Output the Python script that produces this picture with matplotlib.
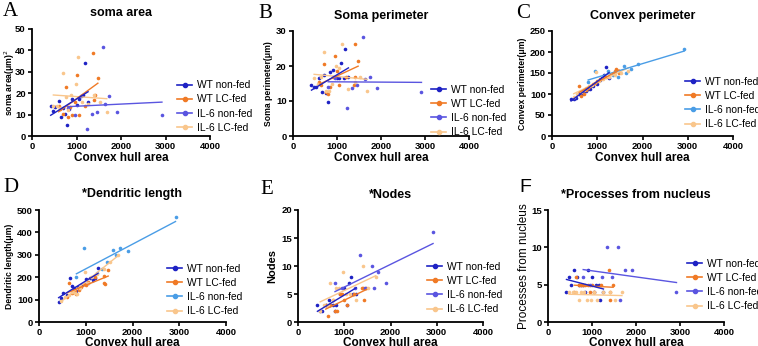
import numpy as np
import matplotlib
matplotlib.use("Agg")
import matplotlib.pyplot as plt
from matplotlib.lines import Line2D

plt.rcParams['font.family'] = ['Liberation Sans', 'DejaVu Sans']

W, H = 758, 346
series_names = ["WT non-fed", "WT LC-fed", "IL-6 non-fed", "IL-6 LC-fed"]

# Convex hull area per group (shared across panels)
x_wt_nf = [420, 480, 520, 600, 660, 700, 750, 790, 830, 910, 1000, 1050, 1100, 1150, 1190, 1260]
x_wt_lc = [600, 640, 700, 760, 800, 850, 900, 960, 1000, 1050, 1200, 1380, 1400, 1420, 1480]
x_il_nf = [800, 960, 1230, 1350, 1450, 1590, 1640, 1740, 1910, 2920]
x_il_lc = [480, 560, 640, 700, 760, 820, 880, 980, 1040, 1120, 1250, 1400, 1520, 1680]

# A: soma area
A_wt_nf = [14, 11.5, 13.5, 16.5, 9, 13, 10.5, 5, 12.5, 17.5, 14.5, 17.5, 18.5, 19, 34, 16]
A_wt_lc = [14, 12.5, 10.5, 23, 9, 13.5, 10, 16, 28.5, 10, 14, 39, 17, 19, 27]
A_il_nf = [13, 10, 3.5, 10.5, 11, 41.5, 15, 18.8, 11.4, 10]
A_il_lc = [14, 14, 13, 29.5, 18, 12, 19, 24.5, 37, 16, 15, 19, 16, 11]
# B: soma perimeter
B_wt_nf = [14.6, 14.1, 14.1, 16.5, 12.5, 17.4, 12.2, 9.8, 18.2, 18.9, 16.5, 16.5, 20.9, 16.5, 24.8, 16.8]
B_wt_lc = [15.5, 14.5, 20.5, 12.5, 12, 14, 17, 23, 18.5, 14.5, 17, 14.5, 26.2, 17, 21.3]
B_il_nf = [14, 16.5, 7.9, 13.6, 14.6, 28.4, 16.2, 16.8, 13.6, 12.7]
B_il_lc = [16.5, 15, 17, 24, 13, 13, 15, 20, 19.5, 26.3, 13.5, 15.5, 17, 13]
# C: convex perimeter
C_wt_nf = [88, 88, 91, 101, 101, 107, 107, 113, 113, 119, 123, 133, 139, 146, 165, 139]
C_wt_lc = [120, 95, 100, 110, 115, 120, 125, 127, 130, 135, 140, 148, 155, 160, 150]
C_il_nf = [129, 155, 155, 145, 140, 167, 150, 160, 172, 207]
C_il_lc = [92, 100, 105, 110, 115, 120, 122, 153, 130, 135, 140, 145, 150, 155]
# D: dendritic length
D_wt_nf = [90, 106, 128, 121, 195, 162, 150, 140, 155, 166, 190, 176, 195, 188, 198, 240]
D_wt_lc = [110, 175, 130, 140, 125, 145, 155, 170, 165, 180, 200, 175, 205, 170, 230]
D_il_nf = [200, 329, 217, 235, 269, 321, 300, 332, 318, 467]
D_il_lc = [95, 110, 120, 135, 130, 125, 150, 225, 175, 200, 215, 235, 270, 300]
# E: nodes
E_wt_nf = [3, 2, 2, 3, 4, 3, 3, 2, 3, 5, 6, 3, 7, 8, 5, 5]
E_wt_lc = [3, 1, 3, 4, 2, 2, 5, 5, 4, 3, 5, 6, 6, 4, 6]
E_il_nf = [7, 6, 6, 12, 6, 10, 6, 9, 7, 16]
E_il_lc = [2, 3, 3, 7, 4, 6, 6, 9, 5, 5, 4, 10, 6, 8]
# F: processes from nucleus
F_wt_nf = [4, 6, 5, 7, 6, 5, 5, 5, 4, 7, 6, 4, 5, 5, 3, 4]
F_wt_lc = [4, 6, 5, 5, 5, 5, 5, 4, 5, 4, 5, 7, 3, 4, 5]
F_il_nf = [6, 5, 6, 10, 6, 10, 3, 7, 7, 4]
F_il_lc = [4, 4, 4, 3, 4, 4, 3, 3, 4, 3, 4, 4, 3, 4]

titles = ["soma area", "Soma perimeter", "Convex perimeter", "*Dendritic length", "*Nodes", "*Processes from nucleus"]
ylabels = ["soma area(\u03bcm)$^2$", "Soma perimeter(\u03bcm)", "Convex perimeter(\u03bcm)", "Dendritic length(\u03bcm)", "Nodes", "Processes from nucleus"]
letters = ["A", "B", "C", "D", "E", "F"]
ymaxes = [50, 30, 250, 500, 20, 15]
ysteps = [10, 10, 50, 100, 5, 5]

C_WT = '#1e22c4'
C_WTLC = '#f07a26'
C_ILV = '#5a55e0'
C_ILB = '#4a9de6'
C_ILLC = '#f9c68c'

# pixel boxes: left, right, top, bottom
boxes = [(32, 210, 29, 136), (293, 469, 31, 136), (552, 733, 31, 136),
         (39, 226, 210, 322), (298, 483, 210, 322), (548, 724, 210, 322)]
legend_pos = [(177, 106.5), (431, 111), (685, 103), (167, 290), (427, 288), (687, 285)]
letter_pos = [(3, 12), (258, 14), (516, 14), (3, 188), (260, 190), (519, 188)]
ylabel_x = [9.5, 268.5, 522.5, 9.5, 272, 524]

xs = [x_wt_nf, x_wt_lc, x_il_nf, x_il_lc]
data = [[A_wt_nf, A_wt_lc, A_il_nf, A_il_lc], [B_wt_nf, B_wt_lc, B_il_nf, B_il_lc],
        [C_wt_nf, C_wt_lc, C_il_nf, C_il_lc], [D_wt_nf, D_wt_lc, D_il_nf, D_il_lc],
        [E_wt_nf, E_wt_lc, E_il_nf, E_il_lc], [F_wt_nf, F_wt_lc, F_il_nf, F_il_lc]]

fig = plt.figure(figsize=(W / 100, H / 100), dpi=100)
for i in range(6):
    l, r, t, b = boxes[i]
    ax = fig.add_axes([l / W, 1 - b / H, (r - l) / W, (b - t) / H])
    il_col = C_ILB if i in (2, 3) else C_ILV
    cols = [C_WT, C_WTLC, il_col, C_ILLC]
    order = [3, 2, 1, 0]
    for g in order:
        x = np.array(xs[g], float)
        y = np.array(data[i][g], float)
        ax.plot(x, y, 'o', ms=2.6, color=cols[g], mec='none', zorder=2 + g * 0.1, clip_on=False)
        k, c0 = np.polyfit(x, y, 1)
        xx = np.array([x.min(), x.max()])
        ax.plot(xx, k * xx + c0, '-', lw=1.0, color=cols[g], zorder=3)
    ax.set_xlim(0, 4000)
    ax.set_ylim(0, ymaxes[i])
    ax.set_xticks(range(0, 4001, 1000))
    ax.set_yticks(np.arange(0, ymaxes[i] + 0.1, ysteps[i]))
    for s in ['top', 'right']:
        ax.spines[s].set_visible(False)
    for s in ['left', 'bottom']:
        ax.spines[s].set_linewidth(1.3)
    ax.tick_params(direction='out', length=3, width=1.2, labelsize=6.8, pad=1.5)
    for lab in ax.get_xticklabels() + ax.get_yticklabels():
        lab.set_fontweight('bold')
    ax.set_xlabel("Convex hull area", fontsize=8.5, fontweight='bold',
                  labelpad=0.5 if i < 3 else 0)
    ax.set_title(titles[i], fontsize=9, fontweight='bold', pad=9)
    yc = 1 - ((t + b) / 2) / H
    if i == 5:
        fig.text(ylabel_x[i] / W, yc, ylabels[i], rotation=90,
                 ha='center', va='center', fontsize=8.5)
    elif i == 4:
        fig.text(ylabel_x[i] / W, yc, ylabels[i], rotation=90,
                 ha='center', va='center', fontsize=8, fontweight='bold')
    else:
        fig.text(ylabel_x[i] / W, yc, ylabels[i], rotation=90,
                 ha='center', va='center', fontsize=6.2, fontweight='bold')
    handles = [Line2D([0], [0], color=cols[g], lw=1.2, marker='o', ms=3) for g in range(4)]
    lx, ly = legend_pos[i]
    ax.legend(handles, series_names, loc='center left', bbox_to_anchor=(lx / W, 1 - ly / H),
              bbox_transform=fig.transFigure, frameon=False, fontsize=7.4, handlelength=1.5,
              handletextpad=0.45, labelspacing=0.4, borderpad=0, borderaxespad=0, numpoints=1)
    lxp, lyp = letter_pos[i]
    if i == 5:
        fig.text(lxp / W, 1 - lyp / H, letters[i], fontsize=14, va='center', ha='left',
                 family=['Liberation Sans'])
    else:
        fig.text(lxp / W, 1 - lyp / H, letters[i], fontsize=15, va='center', ha='left',
                 family=['Liberation Serif'])

fig.savefig("out.png", dpi=100)
